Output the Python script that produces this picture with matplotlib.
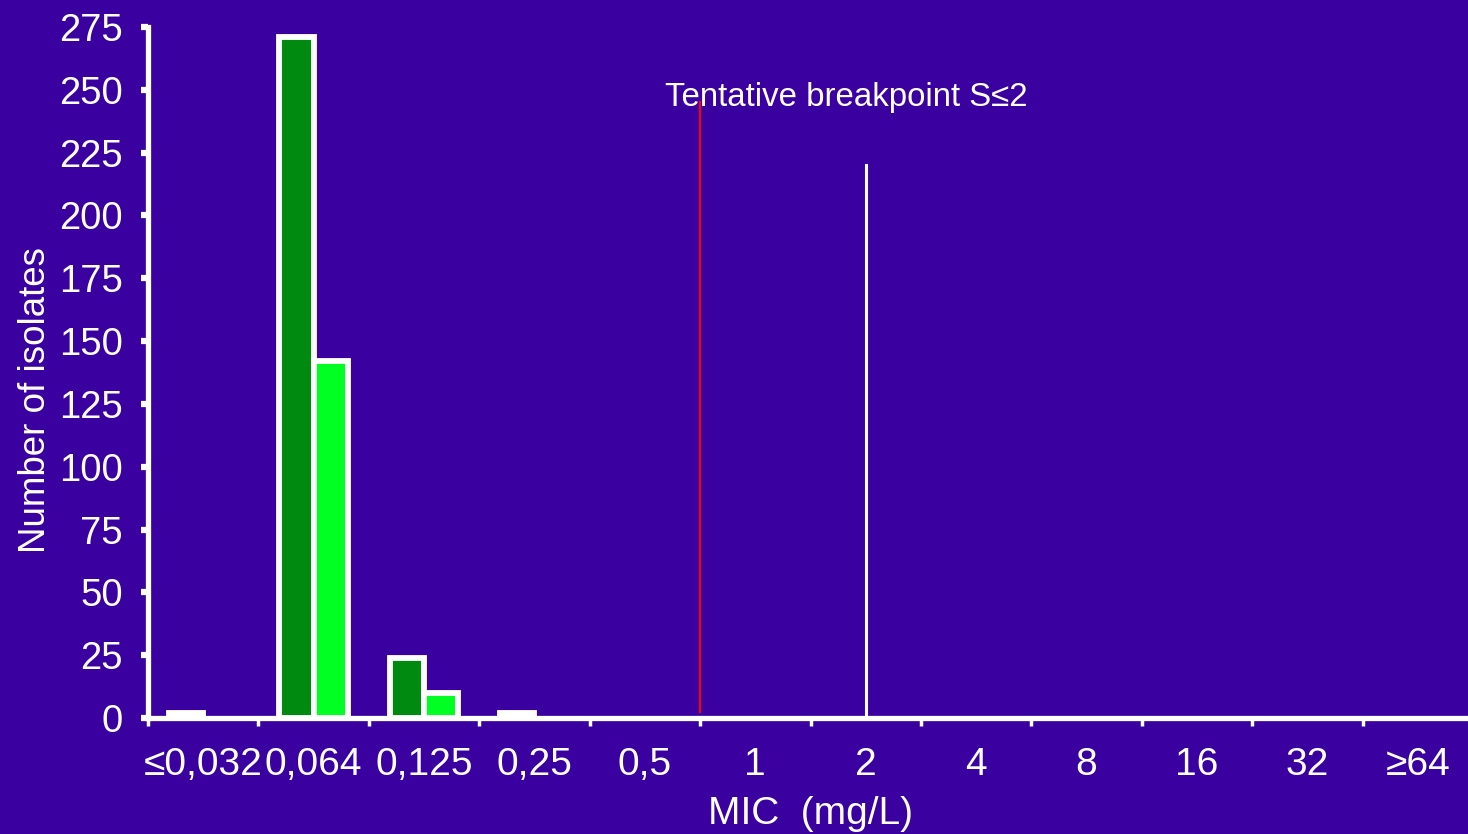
import matplotlib
matplotlib.use("Agg")
import matplotlib.pyplot as plt
import numpy as np

categories = ['≤0,032', '0,064', '0,125', '0,25', '0,5', '1', '2', '4', '8', '16', '32', '≥64']
series_dark = [2, 271, 24, 2, 0, 0, 0, 0, 0, 0, 0, 0]
series_light = [0, 142, 10, 0, 0, 0, 0, 0, 0, 0, 0, 0]
yticks = [0, 25, 50, 75, 100, 125, 150, 175, 200, 225, 250, 275]
breakpoint_x = 4.5      # boundary between 0,5 and 1
breakpoint_top = 245
marker_x = 6            # category "2"
marker_top = 220

plt.rcParams['font.family'] = ['Liberation Sans', 'DejaVu Sans']

bg = '#3a00a0'
dark_green = '#008a10'
light_green = '#00ff22'

fig = plt.figure(figsize=(14.68, 8.34), dpi=100, facecolor=bg)
ax = fig.add_axes([148/1468, 116/834, 1325/1468, 691/834])
ax.set_facecolor(bg)

x = np.arange(len(categories))
w = 0.31
dark = np.array(series_dark)
light = np.array(series_light)
md = dark > 0
ml = light > 0
ax.bar(x[md] - w/2, dark[md], width=w, color=dark_green, edgecolor='white', linewidth=4.2, zorder=3)
ax.bar(x[ml] + w/2, light[ml], width=w, color=light_green, edgecolor='white', linewidth=4.2, zorder=3)

ax.plot([breakpoint_x, breakpoint_x], [2.5, breakpoint_top], color='#ff0000', lw=1.5, zorder=4)
ax.plot([marker_x, marker_x], [0, marker_top], color='white', lw=2.2, zorder=4)
ax.text(4.18, 243.5, 'Tentative breakpoint S≤2', color='white', fontsize=23.8,
        ha='left', va='baseline', zorder=5)

ax.set_xlim(-0.5, len(categories) - 0.5)
ax.set_ylim(0, 275)

for s in ['top', 'right']:
    ax.spines[s].set_visible(False)
for s in ['left', 'bottom']:
    ax.spines[s].set_color('white')
    ax.spines[s].set_linewidth(3.8)

ax.set_yticks(yticks)
ax.set_yticklabels([str(v) for v in yticks])
ax.tick_params(axis='y', colors='white', labelsize=27.5, length=5, width=4.5, pad=13)

ax.set_xticks(np.arange(len(categories) + 1) - 0.5)
ax.set_xticklabels([])
ax.tick_params(axis='x', which='major', colors='white', length=6, width=2.5)
ax.set_xticks(x, minor=True)
ax.set_xticklabels(categories, minor=True)
ax.tick_params(axis='x', which='minor', colors='white', labelsize=28, length=0, pad=21)

ax.set_xlabel('MIC  (mg/L)', color='white', fontsize=28, labelpad=9)
ax.set_ylabel('Number of isolates', color='white', fontsize=26.5)
ax.yaxis.set_label_coords(-0.072, 0.46)

fig.savefig('out.png', dpi=100, facecolor=bg)
